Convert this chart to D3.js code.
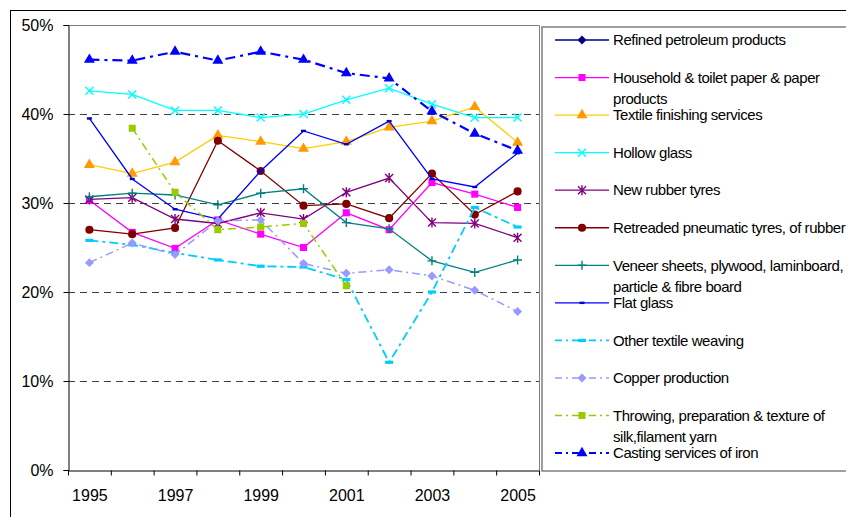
<!DOCTYPE html>
<html>
<head>
<meta charset="utf-8">
<script src="https://cdn.jsdelivr.net/npm/d3@7"></script>
<style>
  body { margin: 0; background: #fff; }
  svg { display: block; font-family: "Liberation Sans", Arial, sans-serif; }
</style>
</head>
<body>
<div id="my_dataviz"></div>
<script>
// * DATA
var years = [1995, 1996, 1997, 1998, 1999, 2000, 2001, 2002, 2003, 2004, 2005];
var yTicks = [0, 0.1, 0.2, 0.3, 0.4, 0.5];
var xLabels = [1995, 1997, 1999, 2001, 2003, 2005];

var refinedPetroleum = [null, null, null, null, null, null, null, null, null, null, null];
var householdPaper   = [30.3, 26.7, 24.9, 28.1, 26.5, 25.0, 28.9, 27.0, 32.3, 31.0, 29.5];
var textileFinishing = [34.3, 33.3, 34.6, 37.6, 36.9, 36.1, 36.9, 38.5, 39.2, 40.8, 36.8];
var hollowGlass      = [42.6, 42.2, 40.4, 40.4, 39.6, 40.0, 41.6, 42.9, 41.1, 39.6, 39.6];
var newRubberTyres   = [30.4, 30.6, 28.2, 27.7, 28.9, 28.2, 31.2, 32.8, 27.8, 27.7, 26.1];
var retreadedTyres   = [27.0, 26.5, 27.2, 37.0, 33.6, 29.7, 29.9, 28.3, 33.3, 28.7, 31.3];
var veneerSheets     = [30.7, 31.1, 30.9, 29.8, 31.1, 31.6, 27.8, 27.1, 23.5, 22.2, 23.6];
var flatGlass        = [39.5, 32.7, 29.3, 28.2, 33.6, 38.1, 36.6, 39.2, 32.7, 31.8, 35.6];
var otherWeaving     = [25.8, 25.3, 24.4, 23.6, 22.9, 22.8, 21.4, 12.1, 20.0, 29.5, 27.3];
var copperProduction = [23.3, 25.5, 24.2, 28.0, 28.1, 23.2, 22.1, 22.5, 21.8, 20.2, 17.8];
var throwingSilk     = [null, 38.4, 31.2, 27.0, 27.3, 27.7, 20.7, null, null, null, null];
var castingIron      = [46.1, 46.0, 47.0, 46.0, 47.0, 46.1, 44.6, 44.0, 40.3, 37.8, 35.9];

var seriesNames = [
  ["Refined petroleum products"],
  ["Household & toilet paper & paper", "products"],
  ["Textile finishing services"],
  ["Hollow glass"],
  ["New rubber tyres"],
  ["Retreaded pneumatic tyres, of rubber"],
  ["Veneer sheets, plywood, laminboard,", "particle & fibre board"],
  ["Flat glass"],
  ["Other textile weaving"],
  ["Copper production"],
  ["Throwing, preparation & texture of", "silk,filament yarn"],
  ["Casting services of iron"]
];
var seriesValues = [refinedPetroleum, householdPaper, textileFinishing, hollowGlass, newRubberTyres,
  retreadedTyres, veneerSheets, flatGlass, otherWeaving, copperProduction, throwingSilk, castingIron];

// styles per series
var styles = [
  {line: "#000080", mark: "#000080", shape: "diamond", w: 1.3, dash: null},
  {line: "#FF00FF", mark: "#FF00FF", shape: "square", w: 1.3, dash: null},
  {line: "#FFCC00", mark: "#FF9900", shape: "triangle", w: 1.3, dash: null},
  {line: "#00FFFF", mark: "#00FFFF", shape: "x", w: 1.3, dash: null},
  {line: "#800080", mark: "#800080", shape: "asterisk", w: 1.3, dash: null},
  {line: "#800000", mark: "#800000", shape: "circle", w: 1.3, dash: null},
  {line: "#008080", mark: "#008080", shape: "plus", w: 1.3, dash: null},
  {line: "#0000FF", mark: "#0000FF", shape: "smalldash", w: 1.3, dash: null},
  {line: "#00CCFF", mark: "#00CCFF", shape: "dash", w: 1.8, dash: "9,4,3,4"},
  {line: "#9999FF", mark: "#9999FF", shape: "diamond", w: 1.5, dash: "8,4,2,4"},
  {line: "#99CC00", mark: "#99CC00", shape: "square", w: 1.5, dash: "8,4,2,4"},
  {line: "#0000FF", mark: "#0000FF", shape: "triangle", w: 2.2, dash: "10,5,3,5"}
];

var svg = d3.select("#my_dataviz")
  .append("svg")
  .attr("width", 846)
  .attr("height", 517);

// outer chart border
svg.append("rect")
  .attr("x", 10.5).attr("y", 10.5)
  .attr("width", 900).attr("height", 600)
  .attr("fill", "none").attr("stroke", "#000").attr("stroke-width", 1);

var plot = {left: 68, right: 539, top: 25, bottom: 470};

var x = d3.scaleLinear()
  .domain([years[0] - 0.5, years[years.length - 1] + 0.5])
  .range([plot.left, plot.right]);
var y = d3.scaleLinear()
  .domain([0, 0.5])
  .range([plot.bottom, plot.top]);

// gridlines
svg.append("g")
  .selectAll("line")
  .data(yTicks.filter(function(d){ return d > 0 && d < 0.5; }))
  .enter()
  .append("line")
  .attr("x1", plot.left).attr("x2", plot.right)
  .attr("y1", function(d){ return Math.round(y(d)) + 0.5; })
  .attr("y2", function(d){ return Math.round(y(d)) + 0.5; })
  .attr("stroke", "#404040")
  .attr("stroke-dasharray", "7,5");

// plot area border top & right
svg.append("path")
  .attr("d", "M" + plot.left + "," + (plot.top + 0.5) + "H" + (plot.right + 0.5) + "V" + plot.bottom)
  .attr("fill", "none").attr("stroke", "#808080");

// Y axis
var yAxis = svg.append("g")
  .attr("transform", "translate(" + (plot.left + 0.5) + ",0)")
  .call(d3.axisLeft(y).tickValues(yTicks).tickFormat(d3.format(".0%")).tickSize(5).tickPadding(10));
yAxis.selectAll("text").attr("font-size", 16).attr("fill", "#000").attr("font-family", "Liberation Sans, Arial, sans-serif");

// X axis ticks at category boundaries
var bounds = years.map(function(d){ return d - 0.5; }).concat([years[years.length - 1] + 0.5]);
var xAxis = svg.append("g")
  .attr("transform", "translate(0," + (plot.bottom + 0.5) + ")")
  .call(d3.axisBottom(x).tickValues(bounds).tickFormat("").tickSize(5).tickSizeOuter(0));
svg.append("g")
  .attr("transform", "translate(0," + (plot.bottom + 0.5) + ")")
  .call(d3.axisBottom(x).tickValues(xLabels).tickFormat(d3.format("d")).tickSize(0).tickPadding(19))
  .call(function(g){ g.select(".domain").remove(); })
  .selectAll("text").attr("font-size", 16).attr("fill", "#000").attr("font-family", "Liberation Sans, Arial, sans-serif");
svg.selectAll(".domain").attr("stroke", "#000");

// marker shapes
function markerPath(shape) {
  var p = d3.path();
  switch (shape) {
    case "square": return d3.symbol(d3.symbolSquare, 50)();
    case "circle": return d3.symbol(d3.symbolCircle, 52)();
    case "triangle": return d3.symbol(d3.symbolTriangle, 52)();
    case "diamond": return d3.symbol(d3.symbolSquare, 40)();
    case "x":
      p.moveTo(-4, -4); p.lineTo(4, 4); p.moveTo(-4, 4); p.lineTo(4, -4);
      return p.toString();
    case "plus":
      p.moveTo(-4.5, 0); p.lineTo(4.5, 0); p.moveTo(0, -4.5); p.lineTo(0, 4.5);
      return p.toString();
    case "asterisk":
      p.moveTo(-4, -4); p.lineTo(4, 4); p.moveTo(-4, 4); p.lineTo(4, -4);
      p.moveTo(0, -5); p.lineTo(0, 5);
      return p.toString();
    case "smalldash":
      p.rect(-2.5, -1.2, 5, 2.4);
      return p.toString();
    case "dash":
      p.rect(-4, -1.6, 8, 3.2);
      return p.toString();
  }
}
function isStroke(shape) { return shape == "x" || shape == "plus" || shape == "asterisk"; }
function drawMarker(g, st) {
  var path = g.append("path").attr("d", markerPath(st.shape));
  if (isStroke(st.shape)) {
    path.attr("fill", "none").attr("stroke", st.mark).attr("stroke-width", 1.4);
  } else if (st.shape == "smalldash") {
    path.attr("fill", "#0000CC").attr("stroke", "none");
  } else {
    path.attr("fill", st.mark).attr("stroke", "none");
  }
  if (st.shape == "diamond") path.attr("transform", "rotate(45)");
  return path;
}

var line = d3.line()
  .defined(function(d){ return d.v != null; })
  .x(function(d){ return x(d.year); })
  .y(function(d){ return y(d.v / 100); });

var chart = svg.append("g");
seriesValues.forEach(function(vals, i) {
  var st = styles[i];
  var pts = years.map(function(yr, j){ return {year: yr, v: vals[j]}; });
  var g = chart.append("g");
  g.append("path")
    .datum(pts)
    .attr("d", line)
    .attr("fill", "none")
    .attr("stroke", st.line)
    .attr("stroke-width", st.w)
    .attr("stroke-dasharray", st.dash);
  pts.filter(function(d){ return d.v != null; }).forEach(function(d) {
    var m = g.append("g").attr("transform", "translate(" + x(d.year) + "," + y(d.v / 100) + ")");
    drawMarker(m, st);
  });
});

// legend
var legendTop = 40, legendStep = 37.55;
svg.append("rect")
  .attr("x", 542).attr("y", 27)
  .attr("width", 400).attr("height", 444)
  .attr("fill", "#fff").attr("stroke", "#808080").attr("stroke-width", 1.5);

seriesNames.forEach(function(lines, i) {
  var st = styles[i];
  var cy = legendTop + i * legendStep;
  var g = svg.append("g").attr("transform", "translate(0," + cy + ")");
  g.append("line")
    .attr("x1", 555).attr("x2", 609).attr("y1", 0).attr("y2", 0)
    .attr("stroke", st.line).attr("stroke-width", Math.min(st.w, 2))
    .attr("stroke-dasharray", st.dash ? "7,4,2,4" : null);
  var m = g.append("g").attr("transform", "translate(582,0)");
  drawMarker(m, st);
  var t = g.append("text")
    .attr("x", 613).attr("y", 0)
    .attr("font-size", 15).attr("letter-spacing", "-0.45px")
    .attr("fill", "#000");
  lines.forEach(function(s, k) {
    t.append("tspan").attr("x", 613).attr("y", k * 21).attr("dy", "0.35em").text(s);
  });
});
</script>
</body>
</html>
